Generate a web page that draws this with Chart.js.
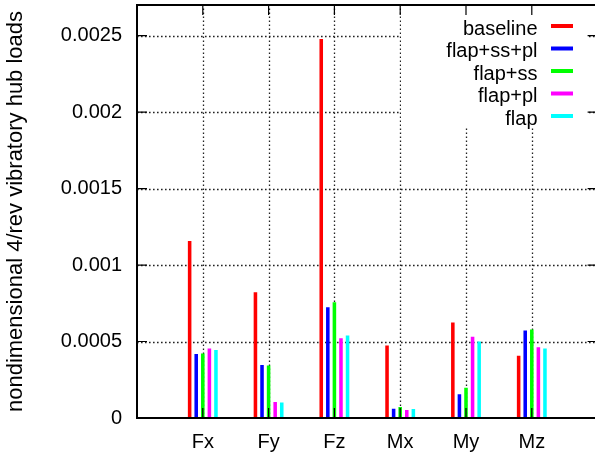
<!DOCTYPE html>
<html>
<head>
<meta charset="utf-8">
<script src="https://cdn.jsdelivr.net/npm/chart.js@4"></script>
<style>
  html, body { margin: 0; padding: 0; background: #fff; overflow: hidden; }
  #wrap { width: 600px; height: 454px; position: relative; }
</style>
</head>
<body>
<div id="wrap"><canvas id="chart"></canvas></div>
<script>
// categories and series values
const categories = ['Fx', 'Fy', 'Fz', 'Mx', 'My', 'Mz'];
const baseline = [0.001157, 0.000822, 0.002478, 0.000474, 0.000624, 0.000407];
const flapSsPl = [0.000418, 0.000346, 0.000724, 0.000061, 0.000155, 0.000572];
const flapSs   = [0.000422, 0.000344, 0.000757, 0.000072, 0.000198, 0.000579];
const flapPl   = [0.000455, 0.000104, 0.000522, 0.000052, 0.000531, 0.000463];
const flap     = [0.000444, 0.000102, 0.000540, 0.000059, 0.000500, 0.000455];
const yTicks = [0, 0.0005, 0.001, 0.0015, 0.002, 0.0025];
const yMax = 0.0027;

Chart.defaults.font.family = "'Liberation Sans', Arial, sans-serif";
Chart.defaults.color = '#000';

// empty slot on each side, like the gnuplot x range 0..7
const pad = arr => [null, ...arr, null];
const labels = ['', ...categories, ''];

// dotted grid, drawn before the bars
const dottedGrid = {
    id: 'dottedGrid',
    beforeDraw(chart) {
        const ctx = chart.ctx;
        const a = chart.chartArea;
        const xs = chart.scales.x, ys = chart.scales.y;
        ctx.save();
        ctx.strokeStyle = '#222';
        ctx.lineWidth = 1.3;
        ctx.setLineDash([1.6, 2.4]);
        ctx.beginPath();
        yTicks.slice(1).forEach(v => {
            const y = Math.round(ys.getPixelForValue(v)) + 0.5;
            ctx.moveTo(a.left, y);
            ctx.lineTo(a.right, y);
        });
        categories.forEach((c, i) => {
            const x = Math.round(xs.getPixelForValue(i + 1)) + 0.5;
            ctx.moveTo(x, a.bottom);
            ctx.lineTo(x, a.top);
        });
        ctx.stroke();
        ctx.restore();
    }
};

// frame, inward ticks (with mirror) and the gnuplot-style key
const gnuplotFrame = {
    id: 'gnuplotFrame',
    afterDatasetsDraw(chart) {
        const ctx = chart.ctx;
        const a = chart.chartArea;
        const xs = chart.scales.x, ys = chart.scales.y;
        ctx.save();

        // key box covers the grid behind it
        ctx.fillStyle = '#fff';
        ctx.fillRect(401, 7, 186, 120);

        ctx.font = "20px 'Liberation Sans', Arial, sans-serif";
        ctx.textAlign = 'right';
        ctx.textBaseline = 'alphabetic';
        chart.data.datasets.forEach((ds, i) => {
            const y = 26 + i * 22.5;
            ctx.fillStyle = '#000';
            ctx.fillText(ds.label, 537.5, y + 8.5);
            ctx.strokeStyle = ds.backgroundColor;
            ctx.lineWidth = 4;
            ctx.beginPath();
            ctx.moveTo(551, y);
            ctx.lineTo(573, y);
            ctx.stroke();
        });

        // ticks
        ctx.strokeStyle = '#000';
        ctx.lineWidth = 1.2;
        ctx.beginPath();
        yTicks.forEach(v => {
            const y = ys.getPixelForValue(v);
            ctx.moveTo(a.left, y); ctx.lineTo(a.left + 10, y);
            ctx.moveTo(a.right - 10, y); ctx.lineTo(a.right, y);
        });
        categories.forEach((c, i) => {
            const x = xs.getPixelForValue(i + 1);
            ctx.moveTo(x, a.bottom); ctx.lineTo(x, a.bottom - 10);
            ctx.moveTo(x, a.top); ctx.lineTo(x, a.top + 10);
        });
        ctx.stroke();

        // border
        ctx.lineWidth = 2;
        ctx.strokeRect(a.left, a.top, a.right - a.left, a.bottom - a.top);
        ctx.restore();
    }
};

new Chart(document.getElementById('chart'), {
    type: 'bar',
    data: {
        labels: labels,
        datasets: [
            { label: 'baseline',   data: pad(baseline), backgroundColor: '#ff0000' },
            { label: 'flap+ss+pl', data: pad(flapSsPl), backgroundColor: '#0000ff' },
            { label: 'flap+ss',    data: pad(flapSs),   backgroundColor: '#00ff00' },
            { label: 'flap+pl',    data: pad(flapPl),   backgroundColor: '#ff00ff' },
            { label: 'flap',       data: pad(flap),     backgroundColor: '#00ffff' }
        ]
    },
    options: {
        responsive: true,
        maintainAspectRatio: false,
        animation: false,
        categoryPercentage: 0.5,
        barPercentage: 0.54,
        layout: { padding: { top: 5, right: 2.4, left: 0, bottom: 0 } },
        plugins: {
            legend: { display: false },
            tooltip: { enabled: false }
        },
        scales: {
            x: {
                offset: false,
                grid: { display: false, drawTicks: false },
                border: { display: false },
                ticks: {
                    font: { size: 20 },
                    padding: 12,
                    maxRotation: 0,
                    autoSkip: false
                },
                afterFit: s => {
                    s.height = 36;
                    s.paddingLeft = 0;
                    s.paddingRight = 0;
                }
            },
            y: {
                min: 0,
                max: yMax,
                grid: { display: false, drawTicks: false },
                border: { display: false },
                afterBuildTicks: s => { s.ticks = yTicks.map(v => ({ value: v })); },
                ticks: {
                    font: { size: 20 },
                    padding: 15,
                    callback: v => String(v)
                },
                title: {
                    display: true,
                    text: 'nondimensional 4/rev vibratory hub loads',
                    font: { size: 22 },
                    padding: { top: 3, bottom: 0 }
                },
                afterFit: s => {
                    s.width = 137;
                    s.paddingTop = 0;
                    s.paddingBottom = 0;
                }
            }
        }
    },
    plugins: [dottedGrid, gnuplotFrame]
});
</script>
</body>
</html>
